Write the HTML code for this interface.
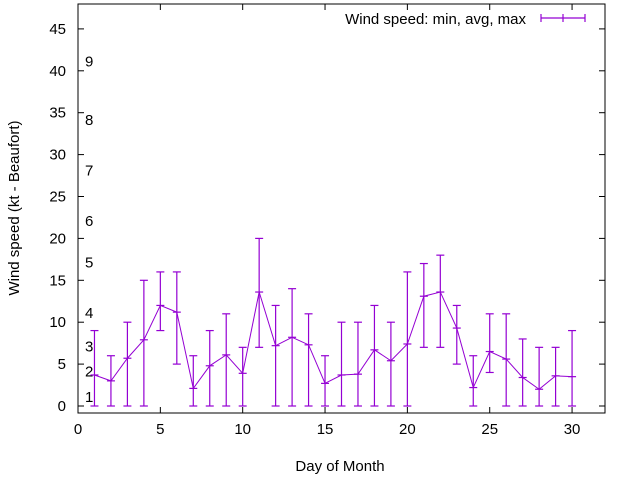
<!DOCTYPE html>
<html><head><meta charset="utf-8"><style>body{margin:0;background:#fff}svg{font-family:"Liberation Sans",sans-serif}</style></head>
<body>
<svg id="c" width="640" height="480" viewBox="0 0 640 480"></svg>
<script>
const days=[1,2,3,4,5,6,7,8,9,10,11,12,13,14,15,16,17,18,19,20,21,22,23,24,25,26,27,28,29,30];
const avgs=[3.7,3.0,5.7,7.9,12.0,11.2,2.1,4.8,6.1,3.9,13.6,7.2,8.2,7.3,2.7,3.7,3.8,6.7,5.4,7.4,13.1,13.6,9.3,2.2,6.5,5.6,3.4,2.0,3.6,3.5];
const mins=[0,0,0,0,9,5,0,0,0,0,7,0,0,0,0,0,0,0,0,0,7,7,5,0,4,0,0,0,0,0];
const maxs=[9,6,10,15,16,16,6,9,11,7,20,12,14,11,6,10,10,12,10,16,17,18,12,6,11,11,8,7,7,9];
const xTicks=[0,5,10,15,20,25,30];
const yTicks=[0,5,10,15,20,25,30,35,40,45];
const beaufort=["1","2","3","4","5","6","7","8","9"];
const beaufortY=[1.1,4.1,7.1,11.1,17.1,22.1,28.1,34.1,41.1];
const L=78,R=605,T=4,B=413;
const X=v=>L+v*(R-L)/32;
const Y=v=>406-v*8.38;
const s=document.getElementById('c');const NS='http://www.w3.org/2000/svg';
function mk(t,a,p){const e=document.createElementNS(NS,t);for(const k in a)e.setAttribute(k,a[k]);(p||s).appendChild(e);return e;}
const col='#9400d3';
xTicks.forEach(v=>{const x=X(v);
const t=mk('line',{x1:x,x2:x,y1:B,y2:B-6,stroke:'#000'});
mk('line',{x1:x,x2:x,y1:T,y2:T+6,stroke:'#000'});
const l=mk('text',{x:x,y:B+21,'text-anchor':'middle','font-size':15,fill:'#000'});l.textContent=v;});
yTicks.forEach(v=>{const y=Y(v);
const t=mk('line',{x1:L,x2:L+6,y1:y,y2:y,stroke:'#000'});
mk('line',{x1:R,x2:R-6,y1:y,y2:y,stroke:'#000'});
const l=mk('text',{x:L-12,y:y+5,'text-anchor':'end','font-size':15,fill:'#000'});l.textContent=v;});
beaufort.forEach((b,i)=>{const l=mk('text',{x:85,y:Y(beaufortY[i])+5,'font-size':15,fill:'#000'});l.textContent=b;});
const f=mk('rect',{x:L,y:T,width:R-L,height:B-T,fill:'none',stroke:'#000'});
days.forEach((d,i)=>{const x=X(d);
const g=mk('g',{stroke:col,'stroke-width':1.2});
mk('line',{x1:x,x2:x,y1:Y(mins[i]),y2:Y(maxs[i])},g);
mk('line',{x1:x-4,x2:x+4,y1:Y(mins[i]),y2:Y(mins[i])},g);
mk('line',{x1:x-4,x2:x+4,y1:Y(maxs[i]),y2:Y(maxs[i])},g);
mk('line',{x1:x-4,x2:x+4,y1:Y(avgs[i]),y2:Y(avgs[i])},g);});
const pl=mk('polyline',{points:days.map((d,i)=>X(d)+','+Y(avgs[i])).join(' '),fill:'none',stroke:col,'stroke-width':1});

const lg=mk('g',{});
const lt=mk('text',{x:526,y:24,'text-anchor':'end','font-size':15,fill:'#000'},lg);lt.textContent='Wind speed: min, avg, max';
mk('line',{x1:541,x2:585,y1:18,y2:18,stroke:col,'stroke-width':1.2},lg);
[541,563,585].forEach(x=>mk('line',{x1:x,x2:x,y1:14,y2:22,stroke:col,'stroke-width':1.2},lg));
const xt=mk('text',{x:340,y:471,'text-anchor':'middle','font-size':15,fill:'#000'});xt.textContent='Day of Month';
const yt=mk('text',{x:0,y:0,'text-anchor':'middle','font-size':15,fill:'#000',transform:'translate(19,208) rotate(-90)'});yt.textContent='Wind speed (kt - Beaufort)';
</script>
</body></html>
